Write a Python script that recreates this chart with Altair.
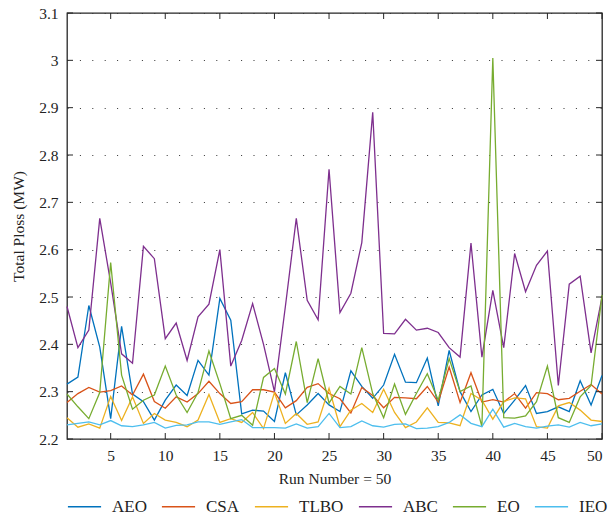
import altair as alt
import pandas as pd

runs = list(range(1, 51))

aeo = [2.316, 2.331, 2.482, 2.394, 2.243, 2.438, 2.295, 2.279, 2.240, 2.282,
       2.314, 2.292, 2.366, 2.335, 2.497, 2.451, 2.253, 2.261, 2.259, 2.237,
       2.340, 2.251, 2.272, 2.296, 2.272, 2.258, 2.344, 2.311, 2.286, 2.314,
       2.379, 2.320, 2.319, 2.371, 2.270, 2.387, 2.300, 2.258, 2.293, 2.305,
       2.254, 2.282, 2.313, 2.254, 2.258, 2.268, 2.258, 2.323, 2.272, 2.334]
csa = [2.277, 2.296, 2.309, 2.299, 2.302, 2.312, 2.293, 2.337, 2.279, 2.265,
       2.289, 2.278, 2.296, 2.322, 2.296, 2.275, 2.279, 2.304, 2.304, 2.299,
       2.266, 2.281, 2.309, 2.317, 2.296, 2.285, 2.255, 2.309, 2.292, 2.266,
       2.288, 2.287, 2.285, 2.311, 2.278, 2.352, 2.277, 2.340, 2.278, 2.283,
       2.278, 2.296, 2.265, 2.298, 2.296, 2.283, 2.286, 2.301, 2.315, 2.295]
tlbo = [2.245, 2.225, 2.232, 2.223, 2.290, 2.239, 2.289, 2.233, 2.254, 2.240,
        2.235, 2.226, 2.240, 2.294, 2.235, 2.243, 2.235, 2.256, 2.222, 2.298,
        2.233, 2.254, 2.231, 2.236, 2.307, 2.226, 2.261, 2.275, 2.256, 2.305,
        2.256, 2.224, 2.236, 2.266, 2.235, 2.234, 2.228, 2.296, 2.282, 2.242,
        2.279, 2.287, 2.285, 2.226, 2.223, 2.270, 2.277, 2.261, 2.240, 2.237]
abc = [2.480, 2.393, 2.430, 2.666, 2.530, 2.380, 2.360, 2.607, 2.581, 2.412,
       2.445, 2.366, 2.458, 2.485, 2.600, 2.354, 2.408, 2.486, 2.400, 2.300,
       2.480, 2.666, 2.493, 2.452, 2.770, 2.467, 2.508, 2.615, 2.890, 2.423,
       2.422, 2.453, 2.430, 2.434, 2.425, 2.393, 2.373, 2.614, 2.373, 2.514,
       2.393, 2.592, 2.511, 2.567, 2.597, 2.313, 2.527, 2.544, 2.382, 2.500]
eo = [2.295, 2.268, 2.243, 2.298, 2.573, 2.335, 2.263, 2.282, 2.293, 2.354,
      2.293, 2.256, 2.298, 2.386, 2.317, 2.243, 2.250, 2.229, 2.330, 2.349,
      2.295, 2.406, 2.277, 2.370, 2.276, 2.311, 2.295, 2.393, 2.296, 2.245,
      2.316, 2.252, 2.296, 2.338, 2.282, 2.370, 2.300, 2.312, 2.226, 3.005,
      2.245, 2.244, 2.249, 2.279, 2.354, 2.245, 2.235, 2.289, 2.313, 2.504]
ieo = [2.230, 2.233, 2.236, 2.230, 2.239, 2.228, 2.226, 2.230, 2.235, 2.223,
       2.229, 2.230, 2.236, 2.236, 2.231, 2.236, 2.241, 2.224, 2.224, 2.224,
       2.223, 2.232, 2.223, 2.226, 2.254, 2.224, 2.226, 2.238, 2.228, 2.225,
       2.231, 2.232, 2.222, 2.223, 2.226, 2.235, 2.251, 2.233, 2.226, 2.263,
       2.225, 2.233, 2.226, 2.223, 2.227, 2.230, 2.225, 2.235, 2.228, 2.232]

names = ["AEO", "CSA", "TLBO", "ABC", "EO", "IEO"]
colors = ["#0072BD", "#D95319", "#EDB120", "#7E2F8E", "#77AC30", "#4DBEEE"]
series = [aeo, csa, tlbo, abc, eo, ieo]

x_ticks = [5, 10, 15, 20, 25, 30, 35, 40, 45, 50]
y_ticks = [2.2, 2.3, 2.4, 2.5, 2.6, 2.7, 2.8, 2.9, 3.0, 3.1]

rows = []
for name, vals in zip(names, series):
    for r, v in zip(runs, vals):
        rows.append({"run": r, "loss": v, "alg": name})
df = pd.DataFrame(rows)

W, H = 535, 426
FONT = "Liberation Serif"

xscale = alt.Scale(domain=[1, 50], nice=False, zero=False)
yscale = alt.Scale(domain=[2.2, 3.1], nice=False, zero=False)

lines = alt.Chart(df).mark_line(strokeWidth=1.3).encode(
    x=alt.X("run:Q", scale=xscale,
            axis=alt.Axis(values=x_ticks, title="Run Number = 50", grid=False,
                          tickSize=0, domain=False, labelPadding=9,
                          titlePadding=8)),
    y=alt.Y("loss:Q", scale=yscale,
            axis=alt.Axis(values=y_ticks, title="Total Ploss (MW)", grid=True,
                          gridDash=[1, 11.4], gridColor="#333333", gridWidth=1,
                          tickSize=0, domain=False, labelPadding=9,
                          titlePadding=12,
                          labelExpr="format(datum.value, '~g')")),
    color=alt.Color("alg:N", sort=names,
                    scale=alt.Scale(domain=names, range=colors),
                    legend=alt.Legend(title=None, orient="none", direction="horizontal",
                                      legendX=0, legendY=476,
                                      symbolType="stroke", symbolSize=1100,
                                      symbolStrokeWidth=1.6, labelOffset=10,
                                      columnPadding=11, labelFontSize=17,
                                      labelFont=FONT, labelColor="#222222")),
    order="run:Q",
)

xt = pd.DataFrame({"run": x_ticks})
yt = pd.DataFrame({"loss": y_ticks})

tick_bottom = alt.Chart(xt).mark_rule(color="#262626", strokeWidth=1).encode(
    x=alt.X("run:Q", scale=xscale), y=alt.value(H), y2=alt.value(H - 6))
tick_top = alt.Chart(xt).mark_rule(color="#262626", strokeWidth=1).encode(
    x=alt.X("run:Q", scale=xscale), y=alt.value(0), y2=alt.value(6))
tick_left = alt.Chart(yt).mark_rule(color="#262626", strokeWidth=1).encode(
    y=alt.Y("loss:Q", scale=yscale), x=alt.value(0), x2=alt.value(6))
tick_right = alt.Chart(yt).mark_rule(color="#262626", strokeWidth=1).encode(
    y=alt.Y("loss:Q", scale=yscale), x=alt.value(W), x2=alt.value(W - 6))

chart = alt.layer(lines, tick_bottom, tick_top, tick_left, tick_right).properties(
    width=W, height=H,
    background="white",
    autosize=alt.AutoSizeParams(type="none"),
    padding={"left": 67, "top": 13, "right": 9, "bottom": 78},
).configure_view(
    stroke="#262626", strokeWidth=1.3
).configure_axis(
    labelFont=FONT, titleFont=FONT, labelFontSize=15.5, titleFontSize=15.5,
    labelColor="#222222", titleColor="#222222", titleFontWeight="normal"
)

chart.save("out.html", embed_options={"renderer": "svg", "actions": False})
